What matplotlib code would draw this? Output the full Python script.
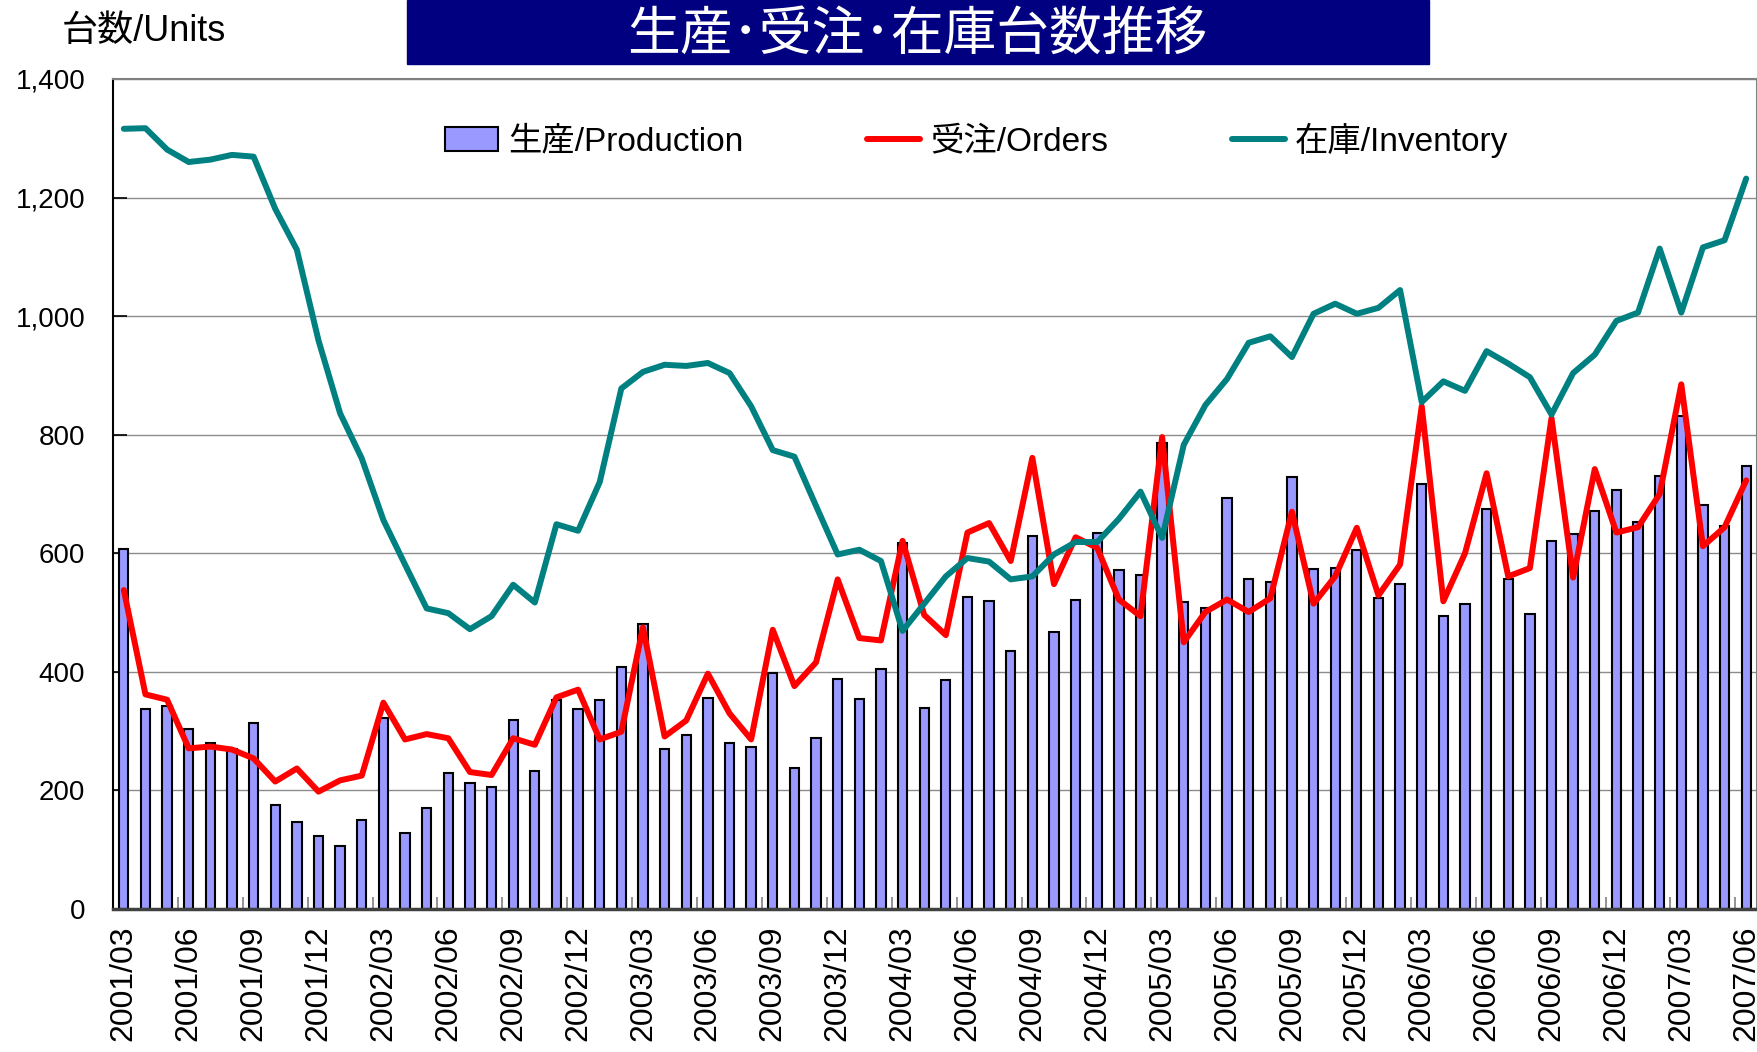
import matplotlib
matplotlib.use("Agg")
import matplotlib.pyplot as plt
from matplotlib.patches import Rectangle
from matplotlib.ticker import FuncFormatter
import numpy as np

plt.rcParams['font.family'] = ['Liberation Sans', 'Noto Sans CJK JP', 'DejaVu Sans']

# 月次データ 2001/03 - 2007/06
months = []
for y in range(2001, 2008):
    for m in range(1, 13):
        if (y == 2001 and m < 3) or (y == 2007 and m > 6):
            continue
        months.append("%d/%02d" % (y, m))

production = [608, 338, 342, 304, 280, 270, 313, 175, 146, 123, 106, 150, 322, 128, 171, 229,
              212, 206, 319, 232, 353, 337, 352, 409, 481, 270, 293, 356, 280, 274, 398, 237,
              289, 388, 355, 405, 617, 339, 387, 527, 520, 436, 630, 467, 522, 634, 572, 564,
              786, 518, 508, 693, 557, 552, 728, 574, 575, 606, 525, 548, 717, 494, 514, 674,
              556, 497, 621, 632, 671, 706, 652, 731, 831, 681, 646, 747]
orders = [538, 362, 353, 271, 274, 269, 254, 215, 237, 198, 217, 225, 348, 286, 295, 288,
          231, 226, 288, 277, 357, 370, 286, 299, 475, 291, 318, 397, 330, 286, 471, 376,
          416, 556, 457, 453, 621, 496, 462, 635, 651, 587, 761, 548, 627, 609, 522, 494,
          796, 450, 501, 522, 501, 524, 670, 515, 561, 643, 529, 581, 848, 519, 600, 735,
          561, 575, 828, 559, 742, 635, 644, 700, 885, 612, 644, 723]
inventory = [1316, 1317, 1281, 1260, 1264, 1272, 1269, 1181, 1112, 959, 836, 760, 656, 581, 507, 499,
             472, 494, 547, 517, 649, 638, 720, 878, 906, 918, 916, 921, 904, 848, 774, 763,
             680, 598, 606, 587, 469, 515, 561, 592, 586, 556, 561, 598, 619, 619, 658, 704,
             626, 783, 850, 894, 955, 966, 931, 1004, 1021, 1004, 1014, 1044, 855, 890, 874, 941,
             920, 897, 834, 904, 935, 992, 1006, 1114, 1006, 1116, 1128, 1232]

W, H = 1758, 1052
fig = plt.figure(figsize=(W / 100, H / 100), dpi=100)
ax = fig.add_axes([113 / W, 1 - 909 / H, (1757 - 113) / W, (909 - 79) / H])

x = np.arange(len(months))
bars = ax.bar(x, production, width=0.43, color='#9999FF', edgecolor='black', linewidth=1.5,
              zorder=2, label='生産/Production')
l1, = ax.plot(x, orders, color='#FF0000', lw=4.3, zorder=3, solid_joinstyle='round',
              solid_capstyle='round', label='受注/Orders')
l2, = ax.plot(x, inventory, color='#008080', lw=4.3, zorder=3, solid_joinstyle='round',
              solid_capstyle='round', label='在庫/Inventory')

ax.set_xlim(-0.5, len(months) - 0.5)
ax.set_ylim(0, 1400)
ax.set_yticks(np.arange(0, 1401, 200))
ax.yaxis.set_major_formatter(FuncFormatter(lambda v, p: "{:,.0f}".format(v)))
ax.grid(axis='y', color='#8c8c8c', lw=1, zorder=0)
ax.set_axisbelow(True)

ax.set_xticks(x[::3])
ax.set_xticklabels(months[::3], rotation=90, fontsize=23)
ax.set_xticks(np.arange(2.5, len(months), 3), minor=True)
ax.tick_params(axis='x', which='major', length=0, pad=12)
ax.tick_params(axis='x', which='minor', direction='in', length=9, color='#808080', width=1.2)
ax.tick_params(axis='y', direction='in', length=10, width=1.2, color='black', pad=20, labelsize=20)

for s in ['top', 'right']:
    ax.spines[s].set_color('#808080')
    ax.spines[s].set_linewidth(1.5)
ax.spines['left'].set_color('black')
ax.spines['left'].set_linewidth(1.5)
ax.spines['bottom'].set_color('#404040')
ax.spines['bottom'].set_linewidth(2.5)

ax.legend(handles=[bars, l1, l2], loc='center left', bbox_to_anchor=(445 / W, 1 - 140 / H),
          bbox_transform=fig.transFigure, ncol=3, frameon=False, fontsize=24,
          handlelength=1.6, handletextpad=0.3, columnspacing=3.7, borderpad=0, borderaxespad=0)

# タイトル
fig.patches.append(Rectangle((407 / W, 1 - 64 / H), 1022 / W, 64 / H, transform=fig.transFigure,
                             color='#000080', zorder=0))
fig.text(917 / W, 1 - 35 / H, '生産･受注･在庫台数推移', color='white', fontsize=38,
         ha='center', va='center', family=['Noto Sans CJK JP', 'DejaVu Sans'])
fig.text(62 / W, 1 - 31 / H, '台数/Units', fontsize=26, ha='left', va='center')

fig.savefig('out.png', dpi=100)
